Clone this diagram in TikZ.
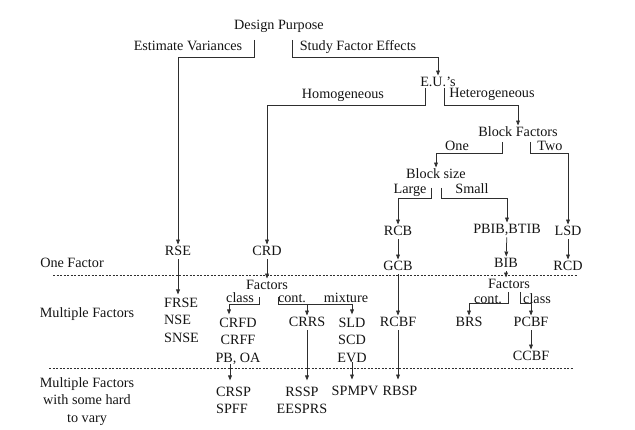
\documentclass[tikz,border=0pt]{standalone}
\usepackage{fontspec}
\setmainfont{Liberation Serif}
\definecolor{dgink}{HTML}{141414}
\definecolor{dgline}{HTML}{2E2E2E}
\usetikzlibrary{arrows.meta, calc}

\begin{document}
\begin{tikzpicture}[x=1pt, y=-1pt,
    lbl/.style={text=dgink, font=\fontsize{14.2}{17.5}\selectfont, inner sep=1pt, text height=9.5pt, text depth=3pt},
    blk/.style={text=dgink, font=\fontsize{14.2}{17.5}\selectfont, inner sep=0pt, anchor=north},
    br/.style={dgline, line width=0.75pt},
    arr/.style={br, -{Triangle[length=5pt, width=3.8pt]}},
    sep/.style={dgline, line width=0.6pt, dash pattern=on 2pt off 1.5pt}]
  \useasboundingbox (0,0) rectangle (635,430);

  % upper tree
  \node[lbl] (dp) at (279,26) {Design Purpose};
  \node[lbl] (ev) at (188,47) {Estimate Variances};
  \node[lbl] (sfe) at (358,47) {Study Factor Effects};
  \node[lbl] (eu) at (438,83) {E.U.'s};
  \node[lbl] (hom) at (343,95) {Homogeneous};
  \node[lbl] (hetg) at (492,94) {Heterogeneous};
  \node[lbl] (bf) at (518,133) {Block Factors};
  \node[lbl] (one) at (457,147) {One};
  \node[lbl] (two) at (550,147) {Two};
  \node[lbl] (bs) at (436,175) {Block size};
  \node[lbl] (large) at (410,190) {Large};
  \node[lbl] (small) at (472,190) {Small};

  % one factor row
  \node[lbl] (onef) at (72,264) {One Factor};
  \node[lbl] (rse) at (178,252) {RSE};
  \node[lbl] (crd) at (267,252) {CRD};
  \node[lbl] (rcb) at (398,232) {RCB};
  \node[lbl] (pbib) at (507,230) {PBIB,BTIB};
  \node[lbl] (lsd) at (568,232) {LSD};
  \node[lbl] (gcb) at (398,267) {GCB};
  \node[lbl] (bib) at (506,264) {BIB};
  \node[lbl] (rcd) at (568,267) {RCD};

  % multiple factors row
  \node[lbl] (multf) at (87,314) {Multiple Factors};
  \node[blk, align=left, anchor=north west] (frse) at (164,297.5) {FRSE\\NSE\\SNSE};
  \node[lbl] (fac1) at (267,286) {Factors};
  \node[lbl] (cls1) at (240,299) {class};
  \node[lbl] (cnt1) at (292,299) {cont.};
  \node[lbl] (mix) at (346,299) {mixture};
  \node[blk, align=center] (crfd) at (238,317.4) {CRFD\\CRFF\\PB, OA};
  \node[lbl] (crrs) at (307,323) {CRRS};
  \node[blk, align=center] (sld) at (352,317.4) {SLD\\SCD\\EVD};
  \node[lbl] (rcbf) at (398,323) {RCBF};
  \node[lbl] (fac2) at (509,285) {Factors};
  \node[lbl] (cnt2) at (488,300) {cont.};
  \node[lbl] (cls2) at (537,300) {class};
  \node[lbl] (brs) at (469,323) {BRS};
  \node[lbl] (pcbf) at (531,323) {PCBF};
  \node[lbl] (ccbf) at (531,357) {CCBF};

  % hard to vary row
  \node[blk, align=center] (hard) at (87,377.4) {Multiple Factors\\with some hard\\to vary};
  \node[blk, align=left, anchor=north west] (crsp) at (216,386.4) {CRSP\\SPFF};
  \node[blk, align=center] (rssp) at (302,386.4) {RSSP\\EESPRS};
  \node[lbl] (spmpv) at (355,392) {SPMPV};
  \node[lbl] (rbsp) at (400,392) {RBSP};

  % row separators
  \draw[sep] (53,275) -- (577,275);
  \draw[sep] (49,368) -- (573,368);

  % branch ticks
  \coordinate (evtk) at (254,40);
  \coordinate (sftk) at (292,40);
  \coordinate (hotk) at (425,88);
  \coordinate (hetk) at (444,88);
  \coordinate (onetk) at (502,142);
  \coordinate (twotk) at (530,142);
  \coordinate (lgtk) at (431,188);
  \coordinate (smtk) at (441,188);
  \coordinate (cl1tk) at (259,297);
  \coordinate (ct1tk) at (278,297);
  \coordinate (ct2tk) at (508,292);
  \coordinate (cl2tk) at (520,292);

  \draw[arr] (evtk) -- ++(0,17) -| (rse);
  \draw[arr] (sftk) -- ++(0,17) -| (eu);
  \draw[arr] (hotk) -- ++(0,17) -| (crd);
  \draw[arr] (hetk) -- ++(0,17) -| (bf);
  \draw[arr] (onetk) -- ++(0,11) -| (bs);
  \draw[arr] (twotk) -- ++(0,11) -| (lsd);
  \draw[arr] (lgtk) -- ++(0,10) -| (rcb);
  \draw[arr] (smtk) -- ++(0,10) -| (pbib);
  \draw[arr] (rcb) -- (gcb);
  \draw[arr] (pbib) -- (bib);
  \draw[arr] (lsd) -- (rcd);

  \draw[arr, shorten >=3pt] (rse) -- (rse |- frse.north);
  \draw[arr] (crd) -- (fac1);
  \draw[arr] (bib) -- (bib |- fac2.north);
  \draw[arr] (gcb) -- (rcbf);
  \draw[arr, shorten >=3pt] (cl1tk) -- ++(0,7) -| ([xshift=-9pt]crfd.north);
  \draw[arr, shorten >=3pt] (ct1tk) -- ++(0,7) coordinate (ct1j) -| (sld.north);
  \draw[arr] (ct1j -| crrs) -- (crrs);
  \draw[arr] (ct2tk) -- ++(0,11) -| (brs);
  \draw[arr] (cl2tk) -- ++(0,11) -| (pcbf);
  \draw[arr] (pcbf) -- (ccbf);

  \draw[arr, shorten >=6pt] ([xshift=-8pt]crfd.south) -- ([xshift=-8pt]crfd.south |- crsp.north);
  \draw[arr, shorten >=6pt] (crrs) -- (crrs |- rssp.north);
  \draw[arr, shorten >=5pt] (sld.south) -- (sld.south |- spmpv.north);
  \draw[arr, shorten >=5pt] (rcbf) -- (rcbf |- rbsp.north);
\end{tikzpicture}
\end{document}
